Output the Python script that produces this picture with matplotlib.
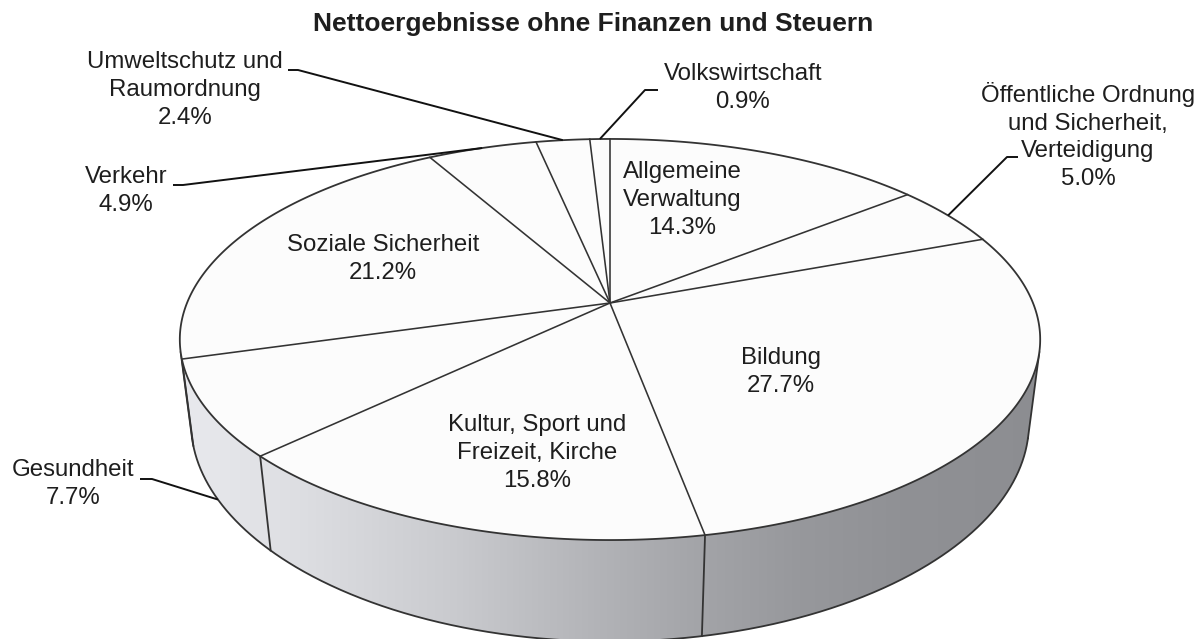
import numpy as np
import matplotlib
matplotlib.use("Agg")
import matplotlib.pyplot as plt
from matplotlib.patches import Polygon

plt.rcParams['font.family'] = ['Liberation Sans', 'DejaVu Sans']

# ---------------- data ----------------
title = "Nettoergebnisse ohne Finanzen und Steuern"
categories = [
    "Allgemeine\nVerwaltung",
    "Öffentliche Ordnung\nund Sicherheit,\nVerteidigung",
    "Bildung",
    "Kultur, Sport und\nFreizeit, Kirche",
    "Gesundheit",
    "Soziale Sicherheit",
    "Verkehr",
    "Umweltschutz und\nRaumordnung",
    "Volkswirtschaft",
]
values = [14.3, 5.0, 27.7, 15.8, 7.7, 21.2, 4.9, 2.4, 0.9]

# ---------------- layout ----------------
W, H = 1199, 639
fig = plt.figure(figsize=(W / 100, H / 100), dpi=100)
ax = fig.add_axes([0, 0, 1, 1])
ax.set_xlim(0, W)
ax.set_ylim(H, 0)
ax.axis('off')

CX, CY = 610.0, 303.0      # pie apex on screen
A, B = 423.0, 193.9        # radii before perspective
K = 0.182                  # perspective strength
D = 83.0                   # thickness
VP = np.array([610.0, 3600.0])  # vanishing point of extrusion

def top(t):
    t = np.asarray(t, dtype=float)
    u, v = np.cos(t), np.sin(t)
    w = 1 + K * v
    return np.stack([CX + A * u / w, CY - B * v / w], axis=-1), w

def bottom(t):
    p, w = top(t)
    d = VP - p
    n = np.linalg.norm(d, axis=-1, keepdims=True)
    return p + (D / w)[..., None] * d / n

total = sum(values)
fracs = np.array(values) / total
cum = np.concatenate([[0], np.cumsum(fracs)])
def ang(f):
    return np.pi / 2 - 2 * np.pi * f

edge_col = '#333333'
lw_edge = 1.15

# --- side (visible part) ---
ts = np.linspace(-np.pi, np.pi, 2001)
P, _ = top(ts)
Q = bottom(ts)
dP = np.gradient(P, axis=0)
dQ = Q - P
cross = dP[:, 0] * dQ[:, 1] - dP[:, 1] * dQ[:, 0]
idx = np.where(cross > 0)[0]
t0, t1 = ts[idx[0]], ts[idx[-1]]
tv = np.linspace(t0, t1, 800)
Pv, _ = top(tv)
Qv = bottom(tv)
side_poly = np.vstack([Pv, Qv[::-1]])
patch = Polygon(side_poly, closed=True, facecolor='none', edgecolor='none')
ax.add_patch(patch)

gx = np.array([170, 190, 300, 450, 600, 700, 800, 900, 1050])
gv = np.array([234, 232, 221, 202, 178, 163, 151, 144, 140])
xs = np.arange(160, 1060)
vals = np.interp(xs, gx, gv) / 255.0
img = np.zeros((2, len(xs), 3))
img[:, :, 0] = vals
img[:, :, 1] = np.clip(vals + 1 / 255, 0, 1)
img[:, :, 2] = np.clip(vals + 5 / 255, 0, 1)
im = ax.imshow(img, extent=[160, 1060, 650, 320], aspect='auto', zorder=1,
               interpolation='bilinear')
im.set_clip_path(patch)

# side outline
ax.plot(Qv[:, 0], Qv[:, 1], color=edge_col, lw=1.3, zorder=2)
for tt in (t0, t1):
    p, _ = top(tt)
    q = bottom(tt)
    ax.plot([p[0], q[0]], [p[1], q[1]], color=edge_col, lw=1.3, zorder=2)
for f in cum[:-1]:
    a = np.arctan2(np.sin(ang(f)), np.cos(ang(f)))
    if t0 < a < t1:
        p, _ = top(a)
        q = bottom(a)
        ax.plot([p[0], q[0]], [p[1], q[1]], color=edge_col, lw=1.3, zorder=2)

# --- top surface ---
tt_all = np.linspace(0, 2 * np.pi, 1000)
Pt, _ = top(tt_all)
ax.add_patch(Polygon(Pt, closed=True, facecolor='#fcfcfc', edgecolor=edge_col,
                     lw=1.3, zorder=3))
for f in cum[:-1]:
    p, _ = top(ang(f))
    ax.plot([CX, p[0]], [CY, p[1]], color=edge_col, lw=lw_edge, zorder=4)

# --- labels ---
fs = 17.3
ls = 1.33
txt_col = '#1e1e1e'
inside_pos = {
    0: (682, 200),
    2: (781, 372),
    3: (537, 453),
    5: (383, 259),
}
# outside labels: text centre, leader elbow, leader end, anchor on bottom edge?
outside = {
    1: ((1088, 136), (1007, 157), (1018, 157), False),
    4: ((73, 484), (152, 479), (140, 479), True),
    6: ((126, 191), (183, 185), (173, 185), False),
    7: ((185, 90), (298, 70), (288, 70), False),
    8: ((743, 88), (645, 90), (658, 90), False),
}

for i, (name, v) in enumerate(zip(categories, values)):
    label = f"{name}\n{v:.1f}%"
    if i in inside_pos:
        x, y = inside_pos[i]
        ax.text(x, y, label, ha='center', va='center', fontsize=fs,
                color=txt_col, linespacing=ls, zorder=6)
    else:
        (x, y), elbow, end, on_bottom = outside[i]
        ax.text(x, y, label, ha='center', va='center', fontsize=fs,
                color=txt_col, linespacing=ls, zorder=6)
        mid = ang((cum[i] + cum[i + 1]) / 2)
        if on_bottom:
            anc = bottom(mid)
        else:
            anc, _ = top(mid)
        ax.plot([anc[0], elbow[0], end[0]], [anc[1], elbow[1], end[1]],
                color='#111111', lw=1.4, zorder=5, solid_capstyle='butt')

ax.text(593, 24, title, ha='center', va='center', fontsize=19,
        fontweight='bold', color=txt_col)

fig.savefig('out.png', dpi=100)
